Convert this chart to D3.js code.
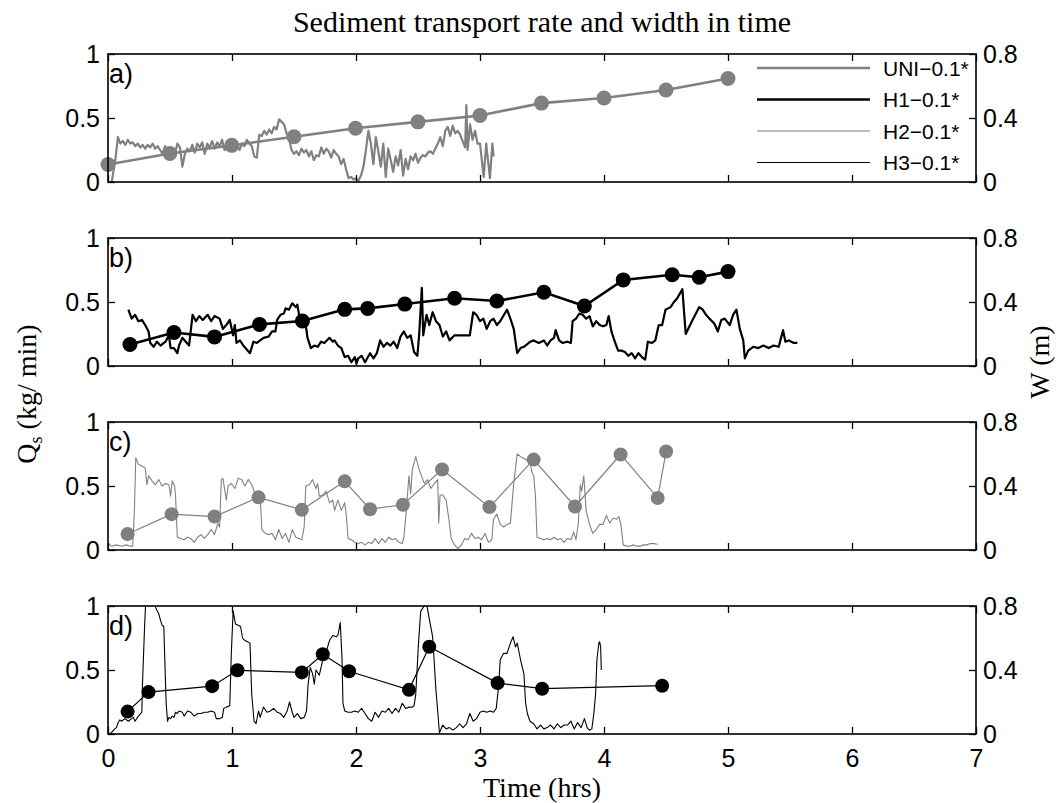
<!DOCTYPE html>
<html><head><meta charset="utf-8">
<script src="https://cdn.jsdelivr.net/npm/d3@7"></script>
<style>body{margin:0;background:#fff}</style></head>
<body><svg id="c" width="1059" height="803"></svg>
<script>
const timeTicks=[0,1,2,3,4,5,6,7];
const qsTicks=[0,0.5,1];
const wTicks=[0,0.4,0.8];
const panelLabels=["a)","b)","c)","d)"];
const seriesNames=["UNI\u22120.1*","H1\u22120.1*","H2\u22120.1*","H3\u22120.1*"];
const titleText="Sediment transport rate and width in time";
const xLabel="Time (hrs)";
const wLabel="W (m)";

// [time (hrs), Qs (kg/min)]
const uniQs=[[0.03,0.0],[0.06,0.18],[0.08,0.35],[0.1,0.3],[0.12,0.32],[0.14,0.29],[0.16,0.33],[0.18,0.3],[0.2,0.31],[0.22,0.28],[0.24,0.3],[0.26,0.27],[0.28,0.29],[0.3,0.26],[0.32,0.29],[0.34,0.27],[0.36,0.3],[0.38,0.26],[0.4,0.28],[0.42,0.25],[0.44,0.22],[0.46,0.28],[0.48,0.21],[0.5,0.27],[0.52,0.2],[0.54,0.22],[0.56,0.3],[0.58,0.27],[0.6,0.12],[0.62,0.22],[0.64,0.26],[0.66,0.24],[0.68,0.29],[0.7,0.23],[0.72,0.3],[0.74,0.27],[0.76,0.31],[0.78,0.22],[0.8,0.3],[0.82,0.27],[0.84,0.32],[0.86,0.26],[0.88,0.31],[0.9,0.28],[0.92,0.33],[0.94,0.25],[0.96,0.3],[0.98,0.28],[1.0,0.3],[1.02,0.26],[1.04,0.29],[1.06,0.25],[1.08,0.3],[1.1,0.28],[1.12,0.33],[1.14,0.3],[1.16,0.28],[1.18,0.2],[1.2,0.19],[1.22,0.37],[1.24,0.36],[1.26,0.4],[1.28,0.37],[1.3,0.41],[1.32,0.38],[1.34,0.43],[1.36,0.41],[1.38,0.49],[1.4,0.47],[1.42,0.45],[1.44,0.38],[1.46,0.34],[1.48,0.25],[1.5,0.22],[1.52,0.24],[1.54,0.21],[1.56,0.26],[1.58,0.23],[1.6,0.25],[1.62,0.2],[1.64,0.24],[1.66,0.17],[1.68,0.21],[1.7,0.2],[1.72,0.27],[1.74,0.22],[1.76,0.26],[1.78,0.24],[1.8,0.19],[1.82,0.25],[1.84,0.22],[1.86,0.2],[1.88,0.14],[1.9,0.18],[1.92,0.1],[1.94,0.03],[1.96,0.04],[1.98,0.02],[2.0,0.03],[2.02,0.01],[2.04,0.05],[2.06,0.12],[2.08,0.25],[2.1,0.4],[2.12,0.3],[2.14,0.14],[2.16,0.35],[2.18,0.24],[2.2,0.12],[2.22,0.3],[2.24,0.04],[2.26,0.26],[2.28,0.17],[2.3,0.08],[2.32,0.2],[2.34,0.13],[2.36,0.25],[2.38,0.05],[2.4,0.18],[2.42,0.1],[2.44,0.2],[2.46,0.17],[2.48,0.22],[2.5,0.15],[2.52,0.19],[2.54,0.21],[2.56,0.2],[2.58,0.23],[2.6,0.24],[2.62,0.22],[2.64,0.26],[2.66,0.3],[2.68,0.35],[2.7,0.28],[2.72,0.4],[2.74,0.43],[2.76,0.36],[2.78,0.44],[2.8,0.38],[2.82,0.4],[2.84,0.37],[2.86,0.32],[2.88,0.27],[2.89,0.6],[2.9,0.25],[2.92,0.45],[2.94,0.33],[2.96,0.4],[2.98,0.3],[3.0,0.3],[3.03,0.04],[3.05,0.3],[3.08,0.03],[3.1,0.3],[3.11,0.2]];
// [time (hrs), W (m)]
const uniW=[[0,0.109],[0.499,0.178],[0.998,0.229],[1.5,0.283],[1.996,0.336],[2.5,0.376],[3.0,0.416],[3.496,0.493],[4.0,0.525],[4.5,0.575],[5.0,0.647]];

const h1Qs=[[0.164,0.44],[0.191,0.37],[0.218,0.4],[0.245,0.35],[0.273,0.36],[0.3,0.32],[0.327,0.27],[0.341,0.18],[0.368,0.15],[0.395,0.19],[0.423,0.16],[0.464,0.19],[0.491,0.24],[0.505,0.14],[0.532,0.14],[0.559,0.1],[0.573,0.16],[0.6,0.22],[0.627,0.19],[0.654,0.16],[0.682,0.4],[0.709,0.35],[0.736,0.39],[0.764,0.36],[0.804,0.4],[0.832,0.35],[0.859,0.39],[0.9,0.37],[0.927,0.29],[0.954,0.32],[0.982,0.36],[1.009,0.24],[1.023,0.32],[1.036,0.18],[1.064,0.2],[1.091,0.16],[1.145,0.1],[1.173,0.19],[1.2,0.18],[1.227,0.2],[1.254,0.22],[1.295,0.23],[1.323,0.27],[1.35,0.27],[1.364,0.36],[1.391,0.4],[1.418,0.41],[1.432,0.45],[1.459,0.44],[1.486,0.49],[1.514,0.46],[1.527,0.48],[1.541,0.4],[1.568,0.35],[1.595,0.32],[1.609,0.22],[1.636,0.14],[1.663,0.16],[1.691,0.15],[1.718,0.19],[1.745,0.18],[1.786,0.22],[1.813,0.19],[1.827,0.2],[1.854,0.16],[1.882,0.14],[1.909,0.07],[1.936,0.08],[1.963,0.03],[1.991,0.07],[2.004,0.02],[2.018,0.06],[2.045,0.08],[2.073,0.03],[2.113,0.1],[2.141,0.06],[2.168,0.1],[2.195,0.2],[2.222,0.15],[2.25,0.18],[2.277,0.16],[2.304,0.19],[2.332,0.14],[2.359,0.23],[2.386,0.27],[2.413,0.22],[2.441,0.24],[2.468,0.11],[2.495,0.08],[2.509,0.24],[2.531,0.61],[2.542,0.24],[2.569,0.4],[2.591,0.32],[2.618,0.42],[2.645,0.35],[2.673,0.32],[2.7,0.23],[2.727,0.27],[2.754,0.2],[2.795,0.24],[2.918,0.24],[2.945,0.42],[2.972,0.4],[3.0,0.35],[3.027,0.37],[3.054,0.29],[3.082,0.35],[3.109,0.37],[3.136,0.32],[3.163,0.35],[3.218,0.44],[3.245,0.37],[3.272,0.29],[3.3,0.1],[3.327,0.14],[3.354,0.15],[3.406,0.19],[3.433,0.2],[3.474,0.18],[3.515,0.2],[3.542,0.16],[3.569,0.2],[3.597,0.22],[3.61,0.28],[3.638,0.2],[3.665,0.18],[3.706,0.19],[3.733,0.18],[3.747,0.35],[3.774,0.37],[3.801,0.41],[3.828,0.4],[3.856,0.37],[3.883,0.39],[3.91,0.31],[3.937,0.35],[3.965,0.32],[3.992,0.31],[4.019,0.32],[4.038,0.39],[4.06,0.27],[4.087,0.19],[4.114,0.12],[4.142,0.12],[4.169,0.11],[4.196,0.08],[4.223,0.1],[4.251,0.06],[4.278,0.1],[4.305,0.07],[4.332,0.05],[4.354,0.19],[4.387,0.18],[4.414,0.2],[4.441,0.32],[4.469,0.32],[4.496,0.44],[4.537,0.46],[4.564,0.5],[4.591,0.53],[4.632,0.6],[4.659,0.25],[4.714,0.36],[4.768,0.46],[4.796,0.44],[4.823,0.4],[4.85,0.37],[4.891,0.33],[4.918,0.27],[4.946,0.36],[4.973,0.37],[5.014,0.32],[5.041,0.4],[5.068,0.44],[5.095,0.29],[5.123,0.2],[5.136,0.06],[5.163,0.12],[5.204,0.15],[5.245,0.14],[5.286,0.16],[5.327,0.14],[5.368,0.16],[5.409,0.15],[5.444,0.28],[5.463,0.19],[5.491,0.2],[5.531,0.18],[5.559,0.18]];
const h1W=[[0.177,0.134],[0.532,0.209],[0.859,0.182],[1.222,0.26],[1.568,0.281],[1.909,0.354],[2.094,0.36],[2.394,0.387],[2.795,0.423],[3.136,0.406],[3.515,0.461],[3.842,0.375],[4.155,0.538],[4.55,0.57],[4.768,0.555],[5.0,0.59]];

const h2Qs=[[0.005,0.05],[0.027,0.03],[0.068,0.04],[0.109,0.03],[0.15,0.04],[0.177,0.03],[0.199,0.03],[0.213,0.31],[0.224,0.72],[0.245,0.67],[0.286,0.65],[0.3,0.64],[0.314,0.51],[0.327,0.58],[0.355,0.54],[0.382,0.51],[0.409,0.55],[0.436,0.5],[0.464,0.52],[0.491,0.51],[0.505,0.42],[0.518,0.54],[0.537,0.5],[0.545,0.42],[0.559,0.1],[0.586,0.09],[0.614,0.08],[0.641,0.1],[0.668,0.09],[0.695,0.06],[0.723,0.1],[0.75,0.12],[0.777,0.09],[0.804,0.12],[0.832,0.16],[0.859,0.12],[0.886,0.21],[0.9,0.18],[0.914,0.55],[0.927,0.56],[0.954,0.39],[0.968,0.5],[0.995,0.52],[1.023,0.48],[1.05,0.56],[1.077,0.55],[1.104,0.5],[1.132,0.55],[1.159,0.51],[1.186,0.44],[1.227,0.42],[1.241,0.16],[1.268,0.13],[1.295,0.12],[1.323,0.13],[1.35,0.08],[1.377,0.16],[1.404,0.09],[1.432,0.13],[1.459,0.06],[1.486,0.16],[1.514,0.1],[1.541,0.09],[1.563,0.08],[1.582,0.18],[1.595,0.5],[1.623,0.51],[1.65,0.55],[1.677,0.48],[1.691,0.52],[1.704,0.42],[1.732,0.43],[1.759,0.46],[1.786,0.37],[1.813,0.39],[1.827,0.31],[1.854,0.39],[1.882,0.31],[1.909,0.37],[1.923,0.26],[1.936,0.09],[1.963,0.08],[1.991,0.06],[2.018,0.05],[2.045,0.06],[2.073,0.04],[2.1,0.06],[2.127,0.05],[2.154,0.09],[2.182,0.05],[2.209,0.09],[2.236,0.06],[2.263,0.1],[2.291,0.08],[2.318,0.09],[2.345,0.06],[2.373,0.05],[2.386,0.1],[2.4,0.24],[2.427,0.58],[2.441,0.44],[2.454,0.63],[2.482,0.73],[2.509,0.63],[2.536,0.56],[2.55,0.52],[2.577,0.55],[2.604,0.48],[2.632,0.52],[2.659,0.55],[2.667,0.21],[2.678,0.43],[2.7,0.43],[2.727,0.39],[2.749,0.24],[2.768,0.09],[2.795,0.04],[2.822,0.01],[2.85,0.04],[2.877,0.09],[2.904,0.08],[2.932,0.13],[2.959,0.09],[2.986,0.1],[3.013,0.08],[3.041,0.13],[3.068,0.06],[3.095,0.08],[3.109,0.24],[3.136,0.28],[3.163,0.2],[3.191,0.18],[3.218,0.2],[3.245,0.21],[3.272,0.52],[3.3,0.75],[3.341,0.72],[3.368,0.71],[3.406,0.67],[3.42,0.6],[3.433,0.58],[3.447,0.42],[3.46,0.1],[3.488,0.09],[3.515,0.08],[3.542,0.09],[3.569,0.08],[3.597,0.1],[3.624,0.08],[3.651,0.09],[3.678,0.06],[3.706,0.09],[3.733,0.08],[3.755,0.14],[3.774,0.08],[3.793,0.21],[3.809,0.51],[3.82,0.46],[3.837,0.58],[3.856,0.31],[3.883,0.2],[3.91,0.13],[3.937,0.16],[3.965,0.2],[3.992,0.2],[4.019,0.27],[4.046,0.21],[4.074,0.25],[4.101,0.24],[4.12,0.26],[4.136,0.2],[4.155,0.04],[4.183,0.03],[4.21,0.03],[4.237,0.04],[4.264,0.03],[4.292,0.03],[4.319,0.04],[4.346,0.04],[4.373,0.05],[4.401,0.05],[4.433,0.045]];
const h2W=[[0.158,0.1],[0.513,0.224],[0.859,0.209],[1.214,0.329],[1.563,0.251],[1.909,0.429],[2.113,0.255],[2.378,0.283],[2.694,0.503],[3.076,0.268],[3.433,0.565],[3.766,0.272],[4.134,0.597],[4.433,0.325],[4.501,0.616]];

const h3Qs=[[0.005,0.0],[0.027,0.01],[0.055,0.04],[0.068,0.05],[0.082,0.09],[0.095,0.11],[0.109,0.1],[0.136,0.12],[0.164,0.1],[0.191,0.12],[0.205,0.13],[0.218,0.1],[0.245,0.14],[0.273,0.17],[0.278,0.39],[0.295,0.84],[0.305,1.05],[0.368,1.05],[0.387,0.98],[0.409,0.94],[0.423,0.89],[0.436,0.85],[0.45,0.84],[0.458,0.58],[0.469,0.24],[0.48,0.1],[0.491,0.13],[0.505,0.12],[0.518,0.14],[0.532,0.13],[0.545,0.17],[0.559,0.16],[0.573,0.18],[0.6,0.17],[0.614,0.14],[0.641,0.18],[0.668,0.17],[0.695,0.14],[0.723,0.16],[0.75,0.16],[0.777,0.17],[0.804,0.17],[0.832,0.18],[0.859,0.17],[0.873,0.12],[0.9,0.12],[0.922,0.13],[0.933,0.2],[0.954,0.21],[0.982,0.22],[0.995,0.64],[1.009,0.96],[1.028,0.86],[1.05,0.85],[1.069,0.84],[1.085,0.75],[1.104,0.73],[1.124,0.72],[1.145,0.71],[1.159,0.31],[1.178,0.1],[1.194,0.08],[1.214,0.18],[1.227,0.13],[1.254,0.21],[1.282,0.17],[1.309,0.18],[1.336,0.2],[1.364,0.17],[1.391,0.16],[1.418,0.13],[1.445,0.18],[1.464,0.25],[1.486,0.17],[1.5,0.13],[1.527,0.16],[1.554,0.12],[1.582,0.13],[1.601,0.18],[1.614,0.39],[1.631,0.52],[1.65,0.47],[1.664,0.39],[1.677,0.5],[1.704,0.46],[1.732,0.58],[1.759,0.64],[1.786,0.73],[1.813,0.77],[1.841,0.76],[1.854,0.77],[1.873,0.87],[1.887,0.6],[1.895,0.24],[1.909,0.18],[1.936,0.17],[1.963,0.17],[1.991,0.18],[2.018,0.17],[2.045,0.2],[2.073,0.16],[2.1,0.12],[2.127,0.1],[2.154,0.17],[2.182,0.13],[2.209,0.18],[2.236,0.17],[2.263,0.2],[2.291,0.16],[2.318,0.2],[2.345,0.17],[2.373,0.24],[2.4,0.2],[2.427,0.21],[2.454,0.21],[2.468,0.22],[2.482,0.31],[2.504,0.71],[2.522,0.96],[2.55,1.0],[2.569,1.02],[2.591,0.9],[2.618,0.76],[2.645,0.34],[2.673,0.01],[2.7,0.07],[2.727,0.04],[2.754,0.05],[2.782,0.03],[2.809,0.05],[2.836,0.08],[2.863,0.05],[2.891,0.08],[2.918,0.16],[2.945,0.1],[2.972,0.12],[3.0,0.17],[3.027,0.18],[3.054,0.17],[3.082,0.18],[3.109,0.17],[3.131,0.2],[3.15,0.37],[3.163,0.58],[3.191,0.63],[3.218,0.63],[3.245,0.71],[3.267,0.76],[3.286,0.68],[3.3,0.71],[3.327,0.58],[3.354,0.47],[3.368,0.24],[3.382,0.16],[3.403,0.1],[3.433,0.08],[3.46,0.04],[3.488,0.07],[3.515,0.04],[3.542,0.05],[3.569,0.07],[3.597,0.04],[3.624,0.08],[3.651,0.05],[3.678,0.07],[3.706,0.07],[3.733,0.1],[3.76,0.04],[3.787,0.09],[3.815,0.05],[3.842,0.12],[3.864,0.05],[3.883,0.03],[3.902,0.04],[3.918,0.16],[3.932,0.31],[3.943,0.58],[3.951,0.65],[3.959,0.71],[3.965,0.72],[3.973,0.68],[3.978,0.5]];
const h3W=[[0.158,0.14],[0.327,0.262],[0.84,0.299],[1.044,0.398],[1.563,0.385],[1.732,0.498],[1.944,0.392],[2.427,0.276],[2.591,0.545],[3.142,0.318],[3.501,0.283],[4.469,0.302]];

// ---- drawing ----
const svg=d3.select("#c");
const L=108,R=976,PH=128,tops=[54,238,422,606];
const x=d3.scaleLinear().domain([0,7]).range([L,R]);
const styles=[
 {qs:uniQs,w:uniW,color:"#808080",qsLW:2.2,wLW:2.6,r:7.5},
 {qs:h1Qs,w:h1W,color:"#000000",qsLW:2.2,wLW:2.6,r:7.5},
 {qs:h2Qs,w:h2W,color:"#808080",qsLW:1.1,wLW:1.2,r:7},
 {qs:h3Qs,w:h3W,color:"#000000",qsLW:1.1,wLW:1.2,r:7}
];
const sans="'Liberation Sans', Arial, sans-serif";
const serif="'Liberation Serif', 'Times New Roman', serif";
const defs=svg.append("defs");

styles.forEach((s,i)=>{
  const top=tops[i],bot=top+PH;
  const yq=d3.scaleLinear().domain([0,1]).range([bot,top]);
  const yw=d3.scaleLinear().domain([0,0.8]).range([bot,top]);
  const g=svg.append("g");
  defs.append("clipPath").attr("id","cp"+i).append("rect").attr("x",L).attr("y",top).attr("width",R-L).attr("height",PH);
  const pg=g.append("g").attr("clip-path","url(#cp"+i+")");
  pg.append("path").datum(s.qs).attr("fill","none").attr("stroke",s.color).attr("stroke-width",s.qsLW).attr("stroke-linejoin","round")
    .attr("d",d3.line().x(d=>x(d[0])).y(d=>yq(d[1])));
  g.append("path").datum(s.w).attr("fill","none").attr("stroke",s.color).attr("stroke-width",s.wLW)
    .attr("d",d3.line().x(d=>x(d[0])).y(d=>yw(d[1])));
  g.selectAll("circle").data(s.w).join("circle").attr("cx",d=>x(d[0])).attr("cy",d=>yw(d[1])).attr("r",s.r).attr("fill",s.color);

  const fmt=d=>String(d);
  const ax=g.append("g");
  const left=ax.append("g").attr("transform",`translate(${L},0)`).call(d3.axisLeft(yq).tickValues(qsTicks).tickFormat(fmt).tickSizeInner(-7).tickSizeOuter(0).tickPadding(8));
  const right=ax.append("g").attr("transform",`translate(${R},0)`).call(d3.axisRight(yw).tickValues(wTicks).tickFormat(fmt).tickSizeInner(-7).tickSizeOuter(0).tickPadding(7));
  const topA=ax.append("g").attr("transform",`translate(0,${top})`).call(d3.axisTop(x).tickValues(timeTicks).tickFormat("").tickSizeInner(-7).tickSizeOuter(0));
  const botA=ax.append("g").attr("transform",`translate(0,${bot})`).call(d3.axisBottom(x).tickValues(timeTicks).tickFormat(i===3?fmt:"").tickSizeInner(-7).tickSizeOuter(0).tickPadding(15));
  [left,right,topA,botA].forEach(a=>{a.select(".domain").remove();a.selectAll("line").attr("stroke","#000").attr("stroke-width",1.3);a.selectAll("text").attr("font-size",25).attr("fill","#000").attr("font-family",sans);});
  g.append("rect").attr("x",L).attr("y",top).attr("width",R-L).attr("height",PH).attr("fill","none").attr("stroke","#000").attr("stroke-width",1.6);
  g.append("text").attr("x",L+1).attr("y",top+29).attr("font-family",sans).attr("font-size",27).text(panelLabels[i]);
});

// legend
const legY=[68,99.5,131,162.5];
styles.forEach((s,i)=>{
  svg.append("line").attr("x1",757).attr("x2",870).attr("y1",legY[i]).attr("y2",legY[i]).attr("stroke",s.color).attr("stroke-width",s.wLW);
  svg.append("text").attr("x",883).attr("y",legY[i]).attr("dy","0.36em").attr("font-family",sans).attr("font-size",21).text(seriesNames[i]);
});

// titles
svg.append("text").attr("x",(L+R)/2).attr("y",32).attr("text-anchor","middle").attr("font-family",serif).attr("font-size",30).text(titleText);
svg.append("text").attr("x",(L+R)/2).attr("y",797).attr("text-anchor","middle").attr("font-family",serif).attr("font-size",28).text(xLabel);
const yl=svg.append("text").attr("transform","translate(36,394) rotate(-90)").attr("text-anchor","middle").attr("font-family",serif).attr("font-size",28);
yl.append("tspan").text("Q");
yl.append("tspan").attr("font-size",18).attr("dy",6).text("s");
yl.append("tspan").attr("dy",-6).text(" (kg/ min)");
svg.append("text").attr("transform","translate(1049,362) rotate(-90)").attr("text-anchor","middle").attr("font-family",serif).attr("font-size",28).text(wLabel);
</script></body></html>
